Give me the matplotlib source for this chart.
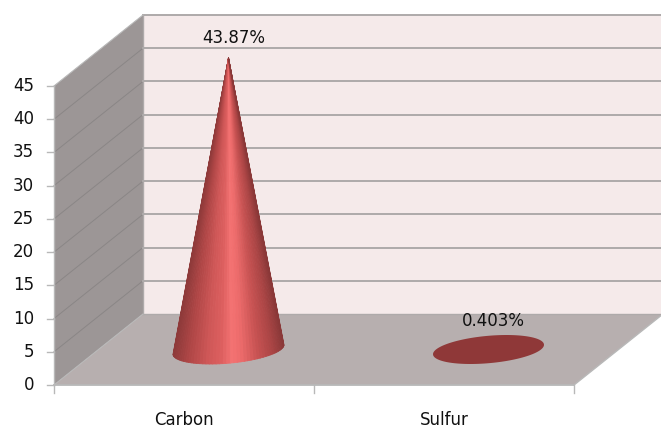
#!/usr/bin/env python3
import matplotlib
matplotlib.use('Agg')
import matplotlib.pyplot as plt
import numpy as np
from matplotlib.collections import PolyCollection
from matplotlib.colors import LinearSegmentedColormap

categories = ['Carbon', 'Sulfur']
values = [43.87, 0.403]
value_labels = ['43.87%', '0.403%']
yticks = [0, 5, 10, 15, 20, 25, 30, 35, 40, 45]

width_px = 661
height_px = 428
x_scale = 260.0 # pixels per category
y_scale = 299.0 / 45 # pixels per value unit
left_px = 54
bottom_px = 385
depth_x = 89 / x_scale
depth_y = 71 / y_scale

wall_color = '#9c9696'
back_color = '#f5eaea'
floor_color = '#b7afaf'
grid_color = '#aeaaaa'
side_grid = '#8a8686'
edge_color = '#b8b8b8'
text_size = 12
font = 'DejaVu Sans'

cone_cmap = LinearSegmentedColormap.from_list('cone', [
  (0.0, '#8e3a3a'), (0.12, '#ad4545'), (0.3, '#cf5757'), (0.42, '#dd5f5f'),
  (0.52, '#f47272'), (0.6, '#ee6c6c'), (0.75, '#c95353'), (0.9, '#a94444'), (1.0, '#8a3838')])


def ellipse_points(cx, cy, t):
  a = 52.5 / x_scale
  bx = 18 / x_scale
  by = 14.5 / y_scale
  return np.column_stack([cx + a * np.cos(t) + bx * np.sin(t), cy + by * np.sin(t)])


def draw_cone(ax, cx, cy, value):
  t0 = np.arctan(18 / 52.5)
  t = np.linspace(np.pi + t0, 2 * np.pi + t0, 50)
  pts = ellipse_points(cx, cy, t)
  tip = [cx, cy + value]
  polys = [[pts[i], pts[i + 1], tip] for i in range(len(pts) - 1)]
  span = (pts[:, 0] - pts[:, 0].min()) / (pts[:, 0].max() - pts[:, 0].min())
  colors = [cone_cmap(u) for u in span[:-1]]
  ax.add_collection(PolyCollection(polys, facecolors=colors, edgecolors=colors, linewidths=0.6, zorder=5))


def draw_disc(ax, cx, cy):
  t = np.linspace(0, 2 * np.pi, 120)
  pts = ellipse_points(cx, cy, t)
  ax.fill(pts[:, 0], pts[:, 1], color='#8f3838', lw=0, zorder=5)


def main():
  fig = plt.figure(figsize=(width_px / 100, height_px / 100), dpi=100)
  ax = fig.add_axes([0, 0, 1, 1])
  ax.set_xlim(-left_px / x_scale, (width_px - left_px) / x_scale)
  ax.set_ylim((bottom_px - height_px) / y_scale, bottom_px / y_scale)
  ax.axis('off')

  xmax = len(categories)
  ymax = yticks[-1]

  # walls and floor
  ax.fill([0, depth_x, depth_x, 0], [0, depth_y, ymax + depth_y, ymax], color=wall_color, lw=0)
  ax.fill([depth_x, xmax + depth_x, xmax + depth_x, depth_x], [depth_y, depth_y, ymax + depth_y, ymax + depth_y], color=back_color, lw=0)
  ax.fill([0, xmax, xmax + depth_x, depth_x], [0, 0, depth_y, depth_y], color=floor_color, lw=0)

  # gridlines
  for tick in yticks:
    if tick == 0:
      continue
    if tick != ymax:
      ax.plot([0, depth_x], [tick, tick + depth_y], color=side_grid, lw=0.7, zorder=2)
    ax.plot([depth_x, xmax + depth_x], [tick + depth_y, tick + depth_y], color=grid_color, lw=1.4, zorder=2)
  ax.plot([depth_x, depth_x], [depth_y, ymax + depth_y], color=grid_color, lw=1.0, zorder=2)
  ax.plot([depth_x, xmax + depth_x], [depth_y, depth_y], color=grid_color, lw=1.0, zorder=2)
  ax.plot([0, depth_x], [ymax, ymax + depth_y], color=edge_color, lw=0.8, zorder=2)
  ax.plot([0, depth_x], [0, depth_y], color=edge_color, lw=0.8, zorder=2)
  ax.plot([xmax, xmax + depth_x], [0, depth_y], color=edge_color, lw=1.0, zorder=2)

  # axes and ticks
  ax.plot([0, xmax], [0, 0], color=edge_color, lw=1.3, zorder=3)
  ax.plot([0, 0], [0, ymax], color=edge_color, lw=1.0, zorder=3)
  for tick in yticks:
    ax.plot([-7 / x_scale, 0], [tick, tick], color=edge_color, lw=1.0, zorder=3)
    ax.text(-20 / x_scale, tick, str(tick), ha='right', va='center', fontsize=text_size, family=font, color='#111111')
  for i in range(xmax + 1):
    ax.plot([i, i], [0, -8 / y_scale], color=edge_color, lw=1.0, zorder=3)

  # marks
  for i, (name, value, label) in enumerate(zip(categories, values, value_labels)):
    cx = i + 0.5 + depth_x / 2
    cy = depth_y / 2
    if value > 1:
      draw_cone(ax, cx, cy, value)
      pad = 11
    else:
      draw_disc(ax, cx, cy)
      pad = 17
    ax.text(cx + 5 / x_scale, cy + value + pad / y_scale, label, ha='center', va='bottom', fontsize=text_size, family=font, color='#111111', zorder=6)
    ax.text(i + 0.5, -35 / y_scale, name, ha='center', va='center', fontsize=text_size, family=font, color='#111111')

  fig.savefig('out.png', dpi=100)


if __name__ == '__main__':
  main()
